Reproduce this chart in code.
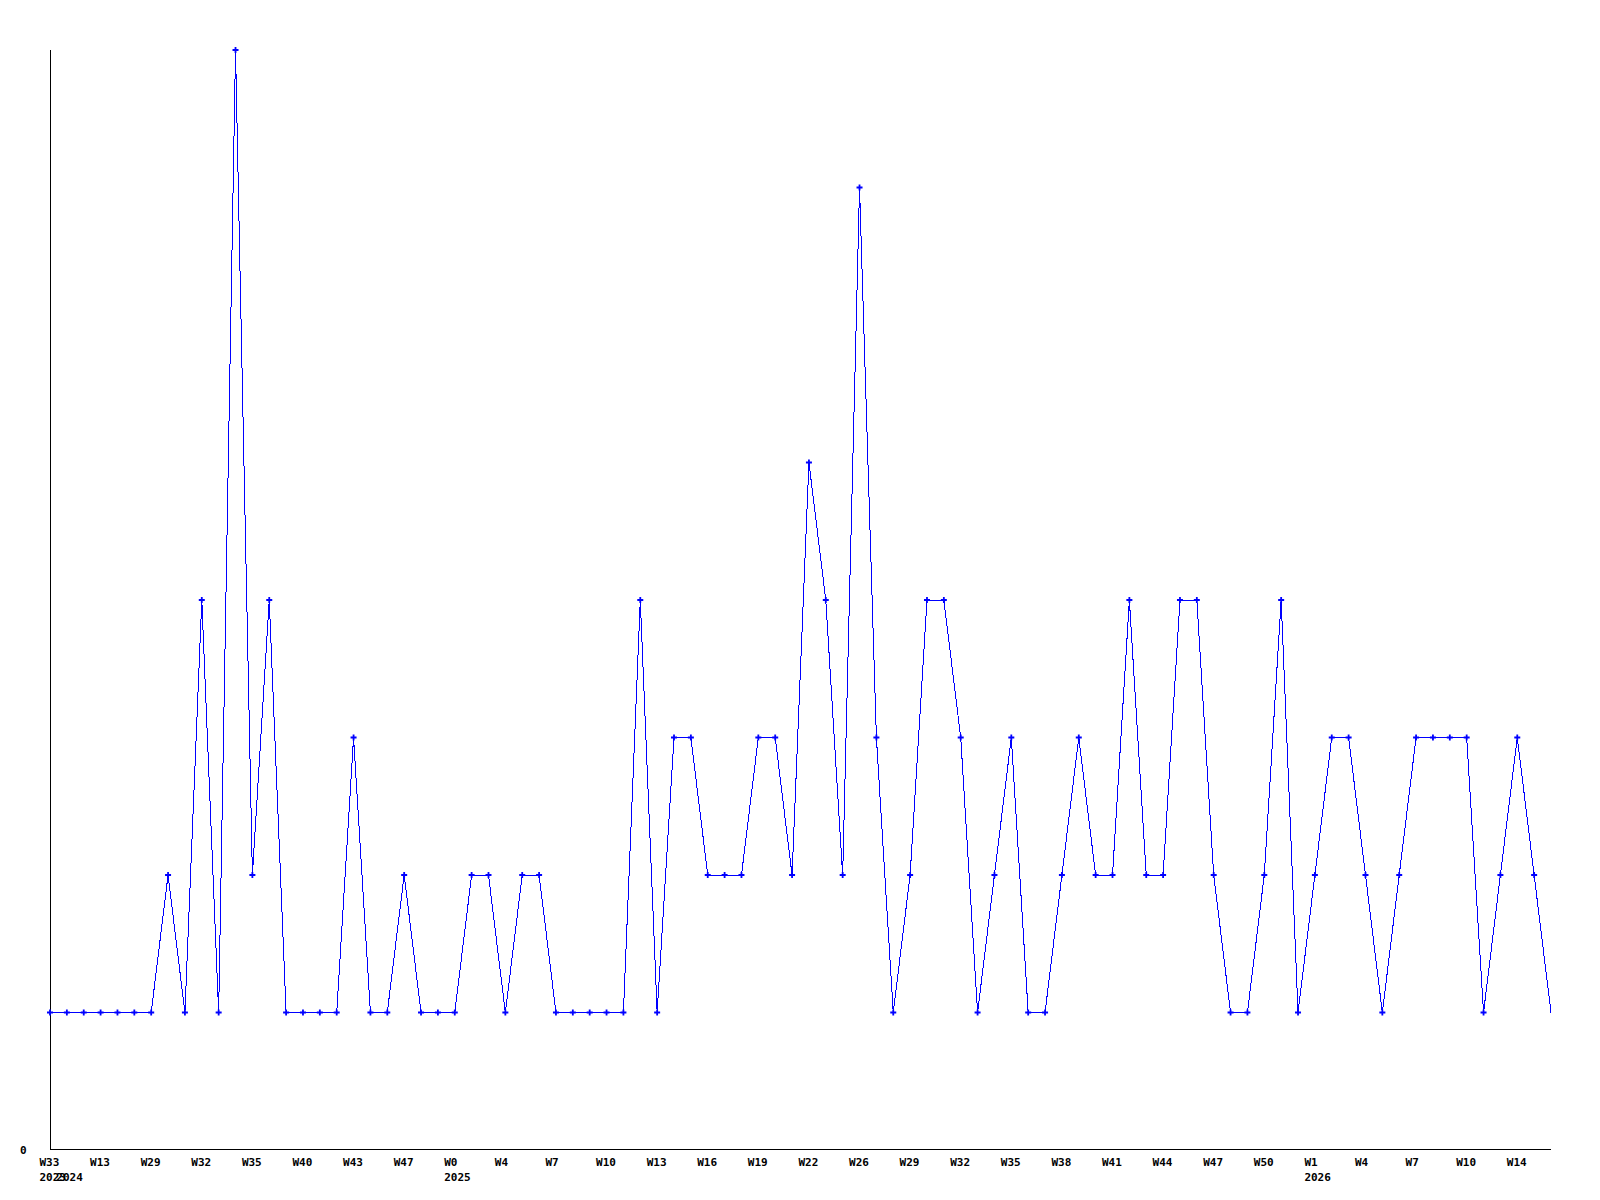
<!DOCTYPE html>
<html>
<head>
<meta charset="utf-8">
<script src="https://cdn.jsdelivr.net/npm/d3@7"></script>
<style>
  body { margin: 0; background: #fff; }
  text { font-family: "DejaVu Sans Mono", monospace; font-size: 11px; font-weight: bold; fill: #000; }
</style>
</head>
<body>
<div id="wrapper"></div>
<script>
// weekly counts, one per point
const values = [
  1, 1, 1, 1, 1, 1, 1, 2, 1, 4,
  1, 8, 2, 4, 1, 1, 1, 1, 3, 1,
  1, 2, 1, 1, 1, 2, 2, 1, 2, 2,
  1, 1, 1, 1, 1, 4, 1, 3, 3, 2,
  2, 2, 3, 3, 2, 5, 4, 2, 7, 3,
  1, 2, 4, 4, 3, 1, 2, 3, 1, 1,
  2, 3, 2, 2, 4, 2, 2, 4, 4, 2,
  1, 1, 2, 4, 1, 2, 3, 3, 2, 1,
  2, 3, 3, 3, 3, 1, 2, 3, 2, 1,
];

// a week label on every third point
const weekLabels = [
  "W33", "W13", "W29", "W32", "W35", "W40", "W43", "W47", "W0", "W4",
  "W7", "W10", "W13", "W16", "W19", "W22", "W26", "W29", "W32", "W35",
  "W38", "W41", "W44", "W47", "W50", "W1", "W4", "W7", "W10", "W14",
];
const labelStep = 3;

const yearLabels = [
  { index: 0, label: "2023" },
  { index: 1, label: "2024" },
  { index: 24, label: "2025" },
  { index: 75, label: "2026" },
];

const yMax = 8;

function drawChart() {
  const dimensions = {
    width: 1600,
    height: 1200,
    left: 50,
    right: 1551,
    top: 50,
    bottom: 1150,
  };

  const svg = d3
    .select("#wrapper")
    .append("svg")
    .attr("width", dimensions.width)
    .attr("height", dimensions.height);

  const x = d3
    .scaleLinear()
    .domain([0, values.length - 1])
    .range([dimensions.left, dimensions.right]);

  const y = d3
    .scaleLinear()
    .domain([0, yMax])
    .range([dimensions.bottom, dimensions.top]);

  // axes
  svg
    .append("line")
    .attr("x1", dimensions.left + 0.5)
    .attr("x2", dimensions.left + 0.5)
    .attr("y1", dimensions.top)
    .attr("y2", dimensions.bottom)
    .attr("stroke", "#000");

  svg
    .append("line")
    .attr("x1", dimensions.left)
    .attr("x2", dimensions.right)
    .attr("y1", dimensions.bottom - 0.5)
    .attr("y2", dimensions.bottom - 0.5)
    .attr("stroke", "#000");

  svg
    .append("text")
    .attr("x", 20)
    .attr("y", y(0) + 4)
    .text("0");

  svg
    .selectAll(".week")
    .data(weekLabels)
    .enter()
    .append("text")
    .attr("class", "week")
    .attr("x", (_, i) => x(i * labelStep) - 10.5)
    .attr("y", 1166)
    .text((d) => d);

  svg
    .selectAll(".year")
    .data(yearLabels)
    .enter()
    .append("text")
    .attr("class", "year")
    .attr("x", (d) => x(d.index) - 10.5)
    .attr("y", 1181)
    .text((d) => d.label);

  // series
  const line = d3
    .line()
    .x((_, i) => x(i))
    .y((d) => y(d));

  svg
    .append("path")
    .datum(values)
    .attr("d", line)
    .attr("fill", "none")
    .attr("stroke", "#0000ff")
    .attr("stroke-width", 1)
    .attr("shape-rendering", "crispEdges");

  svg
    .selectAll(".marker")
    .data(values.slice(0, -1))
    .enter()
    .append("path")
    .attr("class", "marker")
    .attr("transform", (d, i) => `translate(${x(i)},${y(d)})`)
    .attr("d", "M-3,0H3M0,-3V3")
    .attr("stroke", "#0000ff")
    .attr("stroke-width", 1.8);
}

drawChart();
</script>
</body>
</html>
